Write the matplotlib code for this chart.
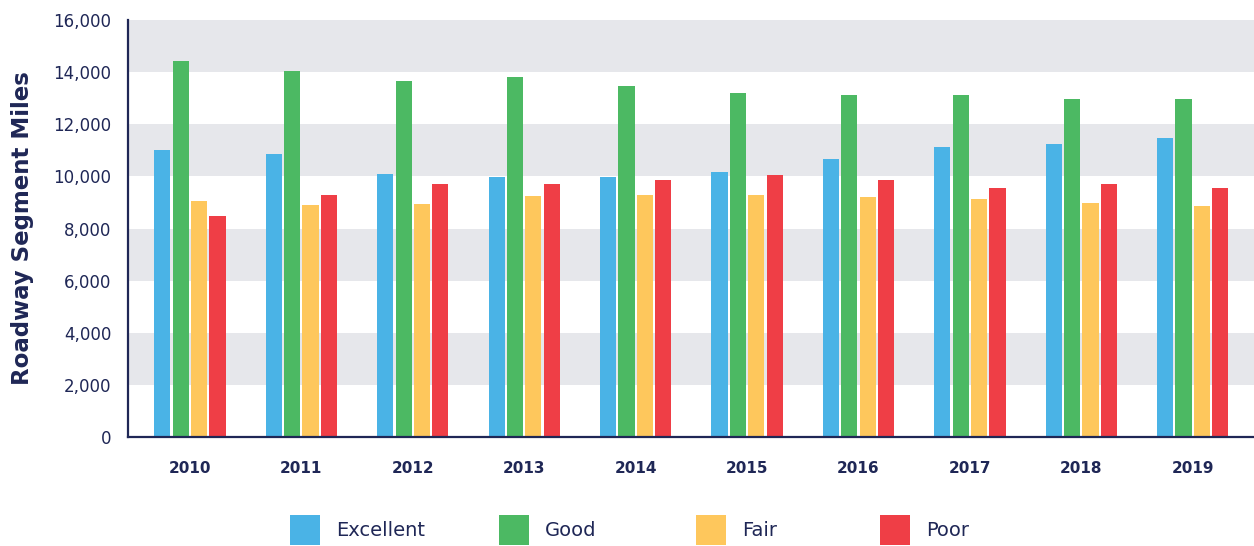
import matplotlib
matplotlib.use("Agg")
import matplotlib.pyplot as plt
from matplotlib.patches import Rectangle
import numpy as np

years = ["2010", "2011", "2012", "2013", "2014", "2015", "2016", "2017", "2018", "2019"]
excellent = [11000, 10840, 10080, 9970, 9970, 10160, 10650, 11110, 11260, 11490]
good = [14430, 14050, 13670, 13820, 13480, 13210, 13130, 13130, 12980, 12980]
fair = [9050, 8900, 8930, 9240, 9280, 9280, 9200, 9130, 8970, 8860]
poor = [8480, 9280, 9700, 9700, 9850, 10040, 9850, 9550, 9700, 9550]
series_names = ["Excellent", "Good", "Fair", "Poor"]
yticks = [0, 2000, 4000, 6000, 8000, 10000, 12000, 14000, 16000]

colors = ["#4AB3E6", "#4CB963", "#FEC75C", "#EF3E46"]
navy = "#1F2756"
band = "#E6E7EB"

fig = plt.figure(figsize=(12.54, 5.46), dpi=100)
ax = fig.add_axes([128/1254, 1-437/546, 1-128/1254, (437-20)/546])

x = np.arange(len(years))
width = 0.145
step = 0.165
for i, (vals, c) in enumerate(zip([excellent, good, fair, poor], colors)):
    ax.bar(x + (i - 1.5) * step, vals, width=width, color=c, zorder=3, linewidth=0)

for lo in [2000, 6000, 10000, 14000]:
    ax.axhspan(lo, lo + 2000, color=band, zorder=0, linewidth=0)

ax.set_ylim(0, 16000)
ax.set_xlim(-0.556, 9.55)
ax.set_yticks(yticks)
ax.set_yticklabels([f"{v:,}" for v in yticks], fontsize=12, color=navy)
ax.set_xticks(x)
ax.set_xticklabels(years, fontsize=11, color=navy, fontweight="semibold")
ax.tick_params(axis="y", length=0, pad=12)
ax.tick_params(axis="x", length=0, pad=17)
for s in ["top", "right"]:
    ax.spines[s].set_visible(False)
for s in ["left", "bottom"]:
    ax.spines[s].set_color(navy)
    ax.spines[s].set_linewidth(1.6)
    ax.spines[s].set_zorder(5)
ax.set_ylabel("Roadway Segment Miles", fontsize=16.5, fontweight="bold", color=navy)
ax.yaxis.set_label_coords(-0.094, 0.5)
ax.yaxis.label.set_va("center")

# legend drawn manually
leg_x = [290, 499, 696, 880]
for name, c, lx in zip(series_names, colors, leg_x):
    fig.add_artist(Rectangle((lx/1254, 1-545/546), 30/1254, 30/546, transform=fig.transFigure,
                             color=c, linewidth=0))
    fig.text((lx+46)/1254, 1-530/546, name, fontsize=14, color=navy, va="center", ha="left")

fig.savefig("out.png", dpi=100)
